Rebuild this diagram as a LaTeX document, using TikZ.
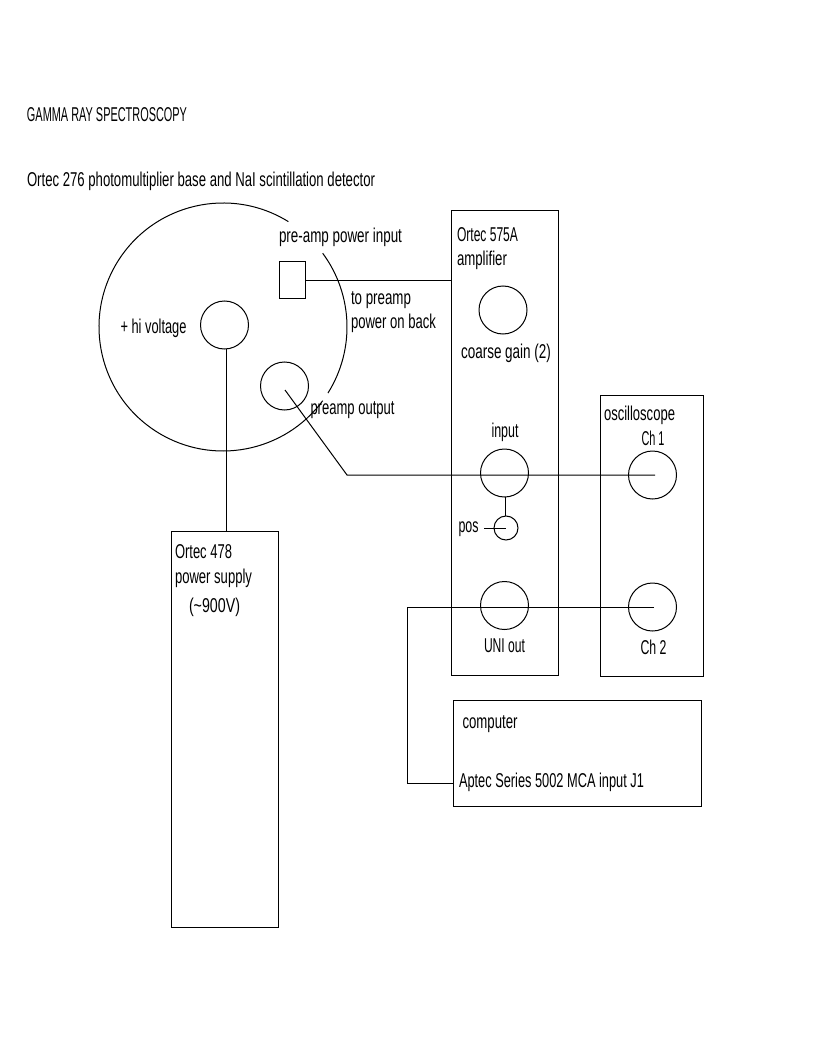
\documentclass[tikz,border=0pt]{standalone}
\usepackage{fontspec}
\usepackage{graphicx}
\setmainfont[FakeStretch=0.62]{Liberation Sans}
\newcommand{\fitw}[2]{\resizebox{#1pt}{\height}{#2}}
\tikzset{
  boxnode/.style={draw=black,line width=1pt,rectangle,inner sep=0pt,outer sep=0pt,anchor=north west},
  jack/.style={draw=black,line width=1pt,circle,inner sep=0pt,outer sep=0pt,minimum size=48pt},
  smalljack/.style={draw=black,line width=1pt,circle,inner sep=0pt,outer sep=0pt,minimum size=24pt},
  wire/.style={draw=black,line width=1pt},
  lbl/.style={anchor=base west,inner sep=0pt,outer sep=0pt,font=\fontsize{20pt}{22pt}\selectfont,text=black},
}
\begin{document}
\begin{tikzpicture}[x=1pt,y=-1pt]
\useasboundingbox (0,0) rectangle (812,1059);
% detector body: circle with gaps
\draw[wire] (223,327) ++(58.2:124 and -124) arc[start angle=-58.2,end angle=-323.5,radius=124];
\draw[wire] (223,327) ++(36.5:124 and -124) arc[start angle=-36.5,end angle=32.2,radius=124];
% boxes
\node[boxnode,minimum width=106.5pt,minimum height=464pt] (amp) at (451.5,211) {};
\node[boxnode,minimum width=103.5pt,minimum height=281pt] (scope) at (600,395) {};
\node[boxnode,minimum width=248pt,minimum height=106pt] (comp) at (453,700) {};
\node[boxnode,minimum width=107pt,minimum height=396pt] (psu) at (171,531) {};
\node[boxnode,minimum width=26.5pt,minimum height=37pt] (pwrin) at (279,261) {};
% jacks
\node[jack] (hv) at (224.5,325) {};
\node[jack] (out) at (284.5,386) {};
\node[jack] (gain) at (503,310) {};
\node[jack] (inp) at (504.5,473) {};
\node[jack] (uni) at (504.5,605.5) {};
\node[jack] (chone) at (652.5,475) {};
\node[jack] (chtwo) at (652.5,607) {};
\node[smalljack] (pos) at (506,528) {};
% free ends
\coordinate (outend) at (285,390);
\coordinate (bend) at (347,475);
\coordinate (chonend) at (655,475);
\coordinate (chtwend) at (654,607);
\coordinate (unileft) at (407,607);
\coordinate (unidown) at (407,783);
\coordinate (posleft) at (484,528);
\coordinate (poscentre) at (506,528);
% connectors
\draw[wire] (pwrin.east |- 0,280) -- (amp.west |- 0,280);
\draw[wire] (226,349) -- (226,531);
\draw[wire] (outend) -- (bend) -- (chonend);
\draw[wire] (505.5,497) -- (505.5,516);
\draw[wire] (posleft) -- (poscentre);
\draw[wire] (chtwend) -- (unileft) -- (unidown) -- (comp.west |- unidown);
% labels
\node[lbl] (t1) at (27,122) {\fitw{160}{GAMMA RAY SPECTROSCOPY}};
\node[lbl] (t2) at (27,186.5) {\fitw{348}{Ortec 276 photomultiplier base and NaI scintillation detector}};
\node[lbl] (t3) at (279,242.5) {\fitw{123}{pre-amp power input}};
\node[lbl] (t4) at (120.5,333.5) {\fitw{66}{+ hi voltage}};
\node[lbl] (t5) at (351,304) {\fitw{60}{to preamp}};
\node[lbl] (t6) at (351,328) {\fitw{85}{power on back}};
\node[lbl] (t7) at (310.5,414) {\fitw{84}{preamp output}};
\node[lbl] (t8) at (457,241) {\fitw{61}{Ortec 575A}};
\node[lbl] (t9) at (457,265.5) {\fitw{50}{amplifier}};
\node[lbl] (t10) at (461,358) {\fitw{90}{coarse gain (2)}};
\node[lbl] (t11) at (491.5,437) {\fitw{27}{input}};
\node[lbl] (t12) at (458.5,532) {\fitw{20}{pos}};
\node[lbl] (t13) at (484,652) {\fitw{41}{UNI out}};
\node[lbl] (t14) at (604,420) {\fitw{71}{oscilloscope}};
\node[lbl] (t15) at (641.5,445) {\fitw{23}{Ch 1}};
\node[lbl] (t16) at (640.5,654) {\fitw{26}{Ch 2}};
\node[lbl] (t17) at (462.5,728) {\fitw{55}{computer}};
\node[lbl] (t18) at (459,787) {\fitw{185}{Aptec Series 5002 MCA input J1}};
\node[lbl] (t19) at (175,558) {\fitw{57}{Ortec 478}};
\node[lbl] (t20) at (175,583) {\fitw{77}{power supply}};
\node[lbl] (t21) at (189,612) {\fitw{51}{(\textasciitilde900V)}};
\end{tikzpicture}
\end{document}
